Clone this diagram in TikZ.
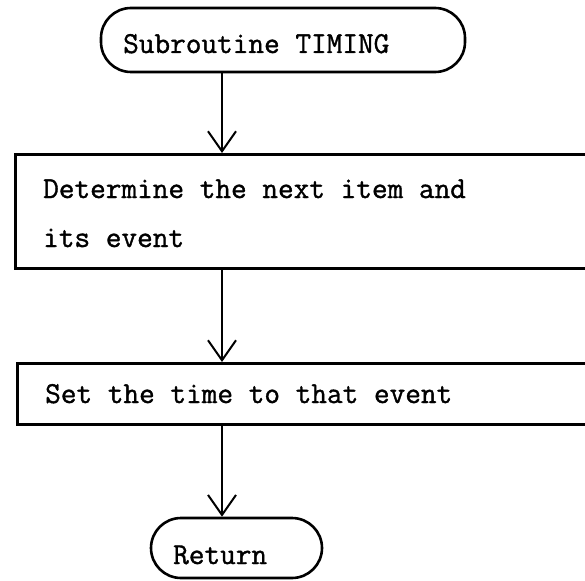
\documentclass[tikz,border=0pt]{standalone}
\usepackage{fontspec}
\setmonofont{Latin Modern Mono}[FakeBold=1.2]
\usetikzlibrary{arrows.meta}
\begin{document}
\begin{tikzpicture}[x=1pt,y=-1pt,
  every node/.style={font=\ttfamily\fontsize{30.4}{49}\selectfont, inner sep=0pt},
  term/.style={draw, line width=2.6pt, rounded corners=30pt, minimum height=64pt},
  procbox/.style={draw, line width=2.6pt, anchor=north west},
  label/.style={anchor=base west},
  arr/.style={line width=2pt, -{Straight Barb[length=20pt,width=28pt,line width=2pt]}}]
  \useasboundingbox (0,0) rectangle (585,580);
  \clip (0,0) rectangle (585,580);
  % vertical spine of the flow
  \coordinate (spine) at (222,0);
  % start terminal
  \node[term, minimum width=364pt] (start) at (283,40) {};
  \node[label] (starttxt) at (123,53) {Subroutine TIMING};
  % first process box (open to the right edge)
  \node[procbox, minimum width=700pt, minimum height=114pt] (box1) at (14,153) {};
  \node[label] (b1l1) at (43,198) {Determine the next item and};
  \node[label] (b1l2) at (43,247) {its event};
  % second process box
  \node[procbox, minimum width=700pt, minimum height=61pt] (box2) at (16,362) {};
  \node[label] (b2l1) at (45,403) {Set the time to that event};
  % return terminal
  \node[term, minimum width=171pt, minimum height=60pt] (ret) at (236.5,548) {};
  \node[label] (rettxt) at (173,564) {Return};
  % connectors
  \draw[arr] (start.south -| spine) -- (box1.north -| spine);
  \draw[arr] (box1.south -| spine) -- (box2.north -| spine);
  \draw[arr] (box2.south -| spine) -- (ret.north -| spine);
\end{tikzpicture}
\end{document}
